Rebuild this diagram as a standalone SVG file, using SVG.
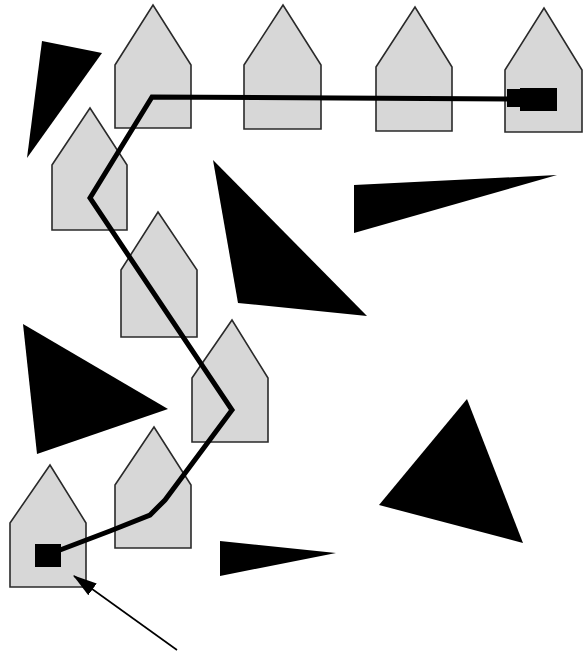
<svg xmlns="http://www.w3.org/2000/svg" width="586" height="656" viewBox="0 0 586 656">
<style>
.house{fill:#d7d7d7;stroke:#2a2a2a;stroke-width:1.6;stroke-linejoin:miter}
.obs{fill:#000}
.route{fill:none;stroke:#000;stroke-width:5;stroke-linejoin:miter}
.ptr{stroke:#000;stroke-width:1.6;fill:none}
</style>
<defs>
<marker id="ah" viewBox="0 0 10 10" refX="9.5" refY="5" markerWidth="24" markerHeight="24" markerUnits="userSpaceOnUse" orient="auto">
<path d="M0,2 L10,5 L0,8 z" fill="#000"/>
</marker>
</defs>
<rect width="586" height="656" fill="#fff"/>
<g id="houses">
<polygon id="h1" class="house" points="115,65 153,5 191,65 191,128 115,128"/>
<polygon id="h2" class="house" points="244,65 283,5 321,65 321,129 244,129"/>
<polygon id="h3" class="house" points="376,67 415,7 452,67 452,131 376,131"/>
<polygon id="h4" class="house" points="505,70 544,8 582,70 582,132 505,132"/>
<polygon id="h5" class="house" points="52,165 90,108 127,165 127,230 52,230"/>
<polygon id="h6" class="house" points="121,270 158,212 197,270 197,337 121,337"/>
<polygon id="h7" class="house" points="192,378 232,320 268,378 268,442 192,442"/>
<polygon id="h8" class="house" points="115,485 154,427 191,485 191,548 115,548"/>
<polygon id="h9" class="house" points="10,523 50,465 86,523 86,587 10,587"/>
</g>
<g id="obstacles">
<polygon class="obs" points="42,41 102,53 27,158"/>
<polygon class="obs" points="213,160 367,316 238,303"/>
<polygon class="obs" points="354,185 557,175 354,233"/>
<polygon class="obs" points="23,324 168,409 37,454"/>
<polygon class="obs" points="467,399 523,543 379,505"/>
<polygon class="obs" points="220,541 336,553 220,576"/>
</g>
<g id="connectors">
<polyline class="route" points="60,550 110,531 150,515 165,500 232,410 90,198 152,97 512,99"/>
<rect x="35" y="544" width="26" height="23" fill="#000"/>
<polygon points="507,89 520,89 520,88 557,88 557,111 520,111 520,107 507,107" fill="#000"/>
<line class="ptr" x1="177" y1="650" x2="74" y2="576" marker-end="url(#ah)"/>
</g>
</svg>
